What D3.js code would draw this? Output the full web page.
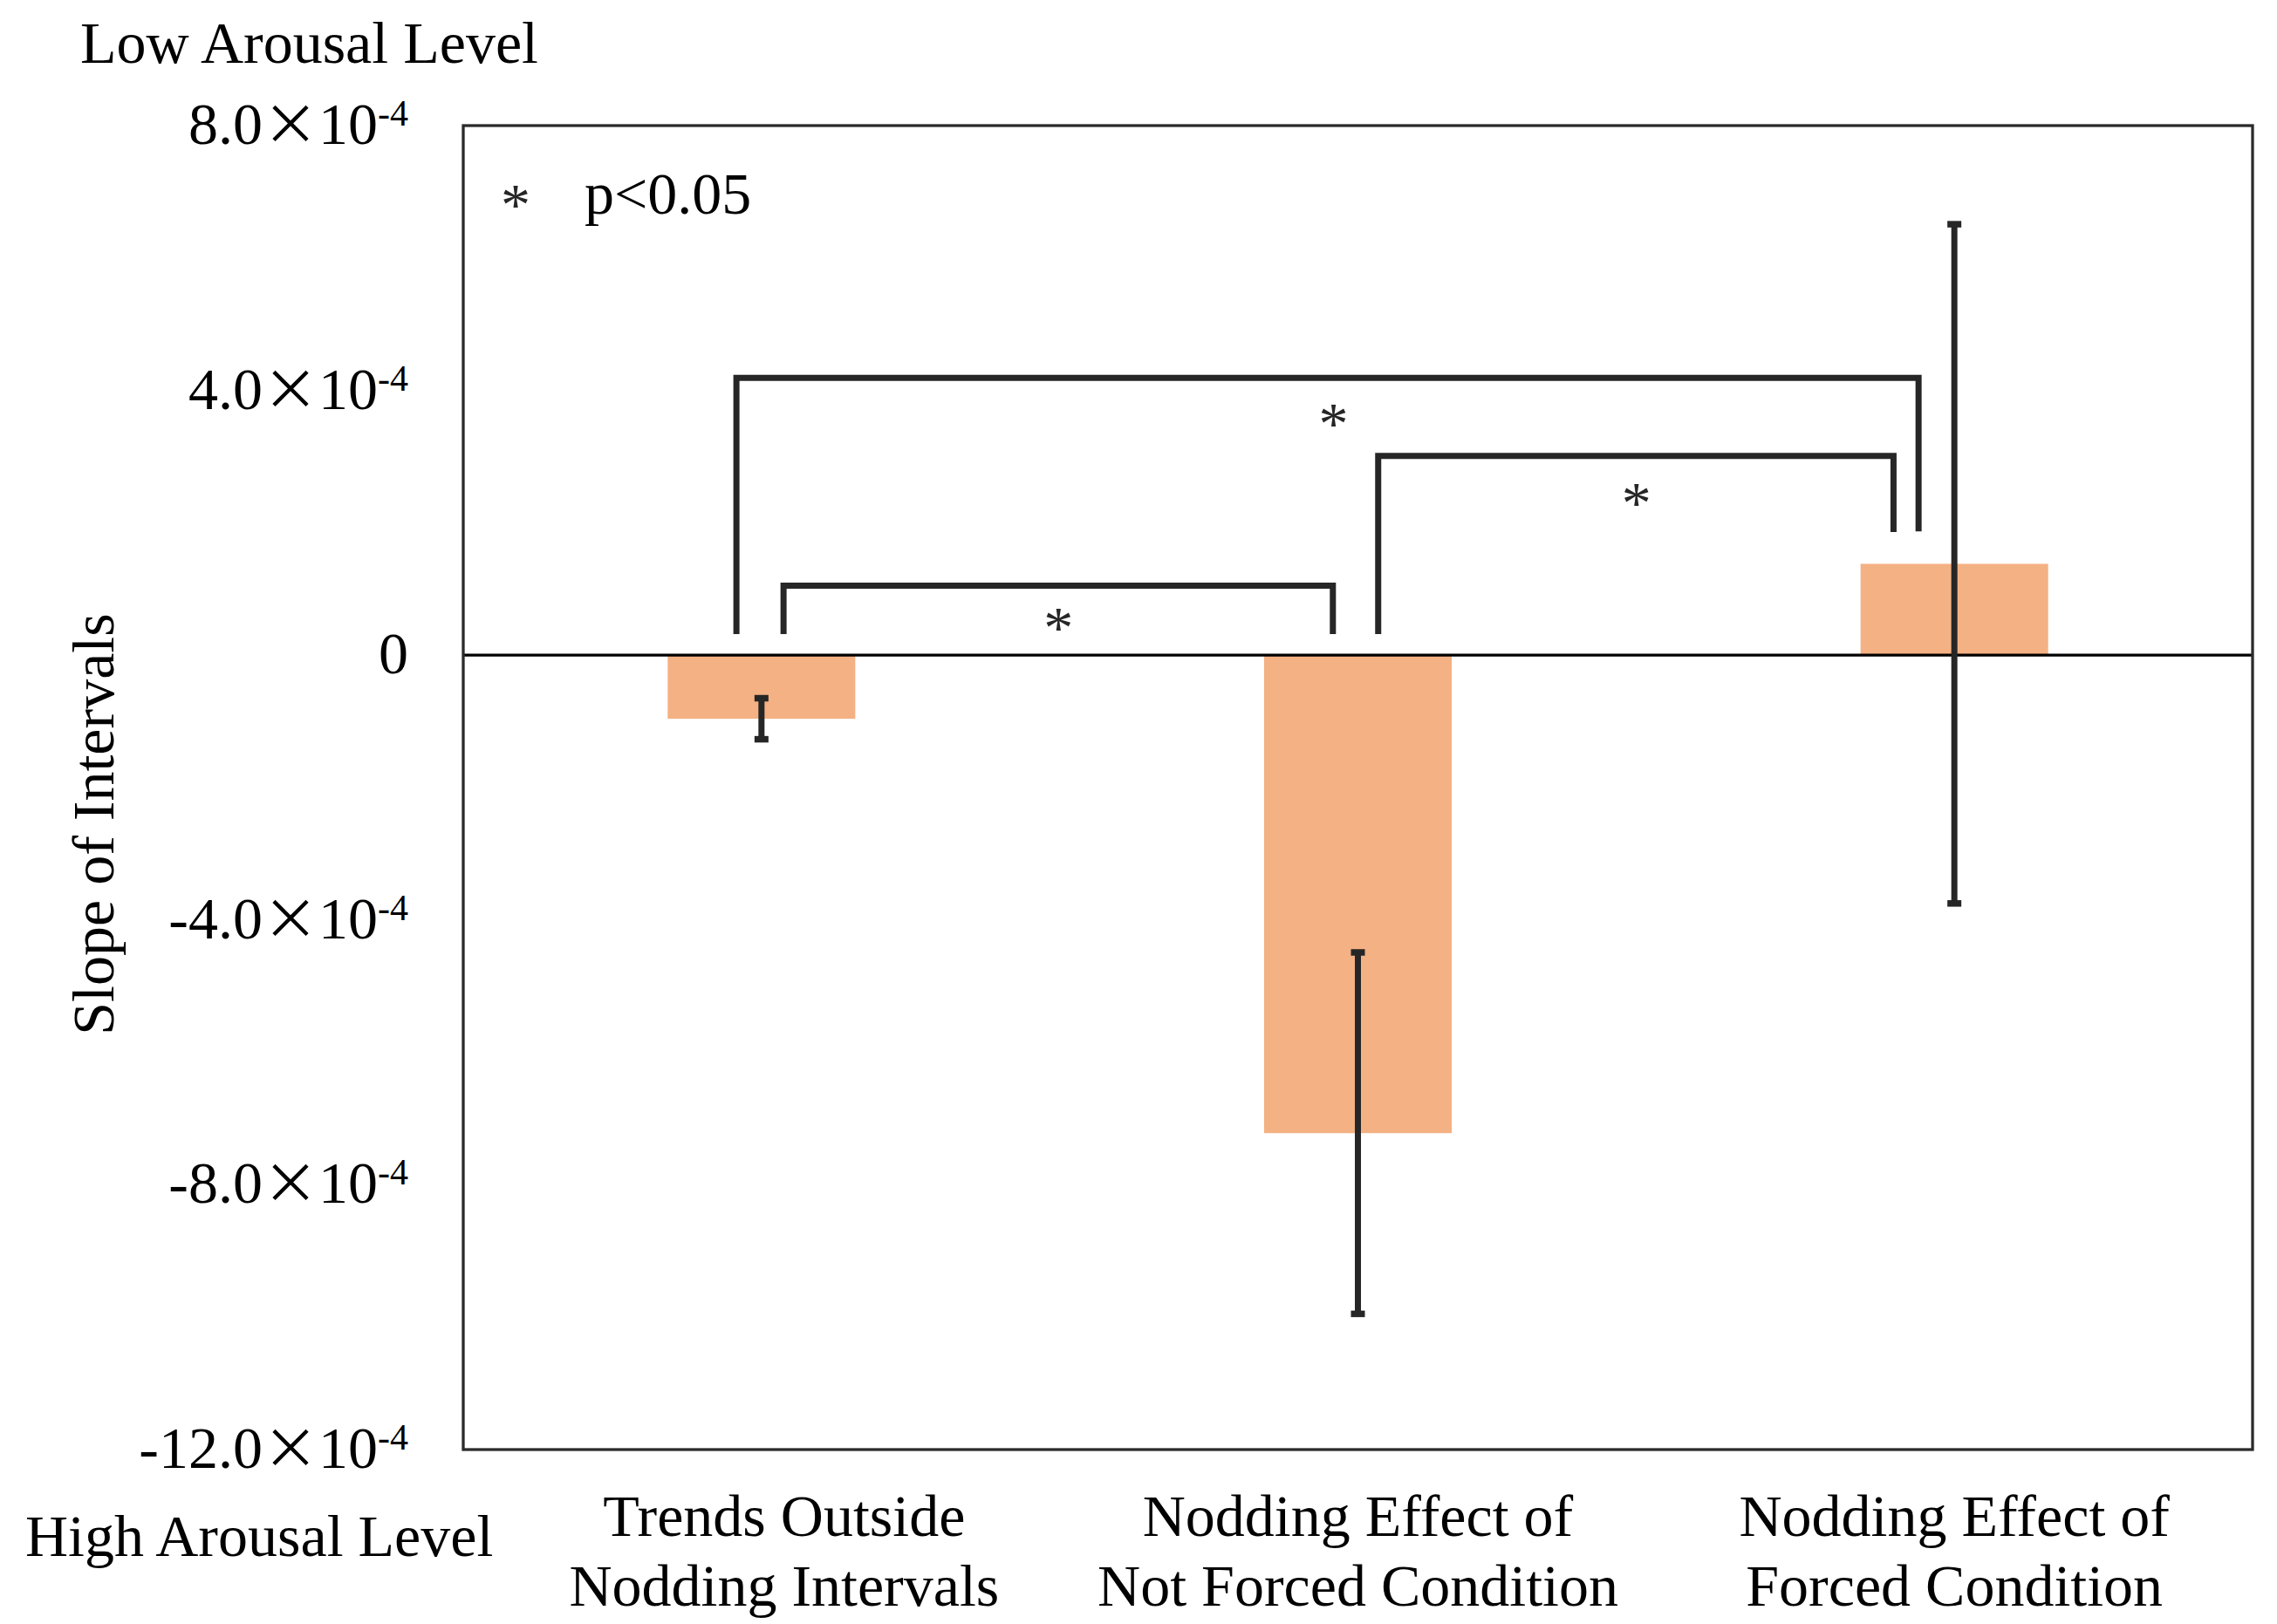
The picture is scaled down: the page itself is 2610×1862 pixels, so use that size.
<!DOCTYPE html>
<html>
<head>
<meta charset="utf-8">
<script src="https://cdn.jsdelivr.net/npm/d3@7/dist/d3.min.js"></script>
<style>
  body { margin: 0; background: #fff; }
  text { font-family: "Liberation Serif", "Times New Roman", serif; fill: #000; }
</style>
</head>
<body>
<script>
// categories (two lines each)
var categories = ["Trends Outside Nodding Intervals", "Nodding Effect of Not Forced Condition", "Nodding Effect of Forced Condition"];
var categoryLines = [["Trends Outside", "Nodding Intervals"], ["Nodding Effect of", "Not Forced Condition"], ["Nodding Effect of", "Forced Condition"]];

// mean slope and error
var slopeValues = [-0.96e-4, -7.22e-4, 1.38e-4];
var slopeErrors = [0.31e-4, 2.73e-4, 5.13e-4];

// y ticks
var yTicks = [8e-4, 4e-4, 0, -4e-4, -8e-4, -12e-4];
var yTickMantissa = ["8.0", "4.0", "0", "-4.0", "-8.0", "-12.0"];

// significance brackets (x in category units, y in data units)
var bracketLeft = [0.458, 0.537, 1.534];
var bracketRight = [2.440, 1.458, 2.398];
var bracketTop = [4.19e-4, 1.05e-4, 3.01e-4];
var bracketLeftEnd = [0.32e-4, 0.32e-4, 0.32e-4];
var bracketRightEnd = [1.87e-4, 0.32e-4, 1.86e-4];
var starX = [1.459, 0.998, 1.967];
var starY = [3.63e-4, 0.54e-4, 2.43e-4];

var W = 2610, H = 1862;
var margin = {top: 144, right: 28, bottom: 200, left: 531};
var width = W - margin.left - margin.right,
    height = H - margin.top - margin.bottom;

var svg = d3.select("body").append("svg")
  .attr("width", W).attr("height", H);

var g = svg.append("g")
  .attr("transform", "translate(" + margin.left + "," + margin.top + ")");

var y = d3.scaleLinear().domain([-12e-4, 8e-4]).range([height, 0]);
var x = d3.scaleBand().domain(categories).range([0, width])
  .paddingInner(0.6855).paddingOuter(0.34275);
var xPos = d3.scaleLinear().domain([0, 3]).range([0, width]); // fuer Klammern

// bars
g.selectAll(".bar")
  .data(slopeValues)
  .enter().append("rect")
  .attr("class", "bar")
  .attr("x", function (d, i) { return x(categories[i]); })
  .attr("width", x.bandwidth())
  .attr("y", function (d) { return y(Math.max(0, d)); })
  .attr("height", function (d) { return Math.abs(y(d) - y(0)); })
  .attr("fill", "#F4B183");

// zero line
g.append("line")
  .attr("x1", 0).attr("x2", width)
  .attr("y1", y(0)).attr("y2", y(0))
  .attr("stroke", "#000").attr("stroke-width", 3.3);

// error bars
var eb = g.selectAll(".err")
  .data(slopeValues)
  .enter().append("g")
  .attr("class", "err")
  .attr("transform", function (d, i) { return "translate(" + (x(categories[i]) + x.bandwidth() / 2) + ",0)"; });

eb.append("line")
  .attr("y1", function (d, i) { return y(d + slopeErrors[i]); })
  .attr("y2", function (d, i) { return y(d - slopeErrors[i]); })
  .attr("stroke", "#262626").attr("stroke-width", 7);

eb.selectAll(".cap")
  .data(function (d, i) { return [d + slopeErrors[i], d - slopeErrors[i]]; })
  .enter().append("line")
  .attr("x1", -8).attr("x2", 8)
  .attr("y1", function (d) { return y(d); })
  .attr("y2", function (d) { return y(d); })
  .attr("stroke", "#262626").attr("stroke-width", 7.5);

// brackets
g.selectAll(".bracket")
  .data(bracketTop)
  .enter().append("path")
  .attr("class", "bracket")
  .attr("d", function (d, i) {
    return "M" + xPos(bracketLeft[i]) + "," + y(bracketLeftEnd[i]) +
      "V" + y(d) + "H" + xPos(bracketRight[i]) + "V" + y(bracketRightEnd[i]);
  })
  .attr("fill", "none")
  .attr("stroke", "#262626")
  .attr("stroke-width", 7)
  .attr("stroke-linejoin", "miter");

g.selectAll(".star")
  .data(starY)
  .enter().append("text")
  .attr("class", "star")
  .attr("x", function (d, i) { return xPos(starX[i]); })
  .attr("y", function (d) { return y(d) + 32; })
  .attr("text-anchor", "middle")
  .style("font-size", "68px")
  .style("fill", "#262626")
  .text("*");

// plot border
g.append("rect")
  .attr("x", 0).attr("y", 0)
  .attr("width", width).attr("height", height)
  .attr("fill", "none").attr("stroke", "#2b2b2b").attr("stroke-width", 3.3);

// y axis
var yAxis = g.append("g")
  .call(d3.axisLeft(y).tickValues(yTicks).tickSize(0).tickPadding(63));
yAxis.select(".domain").remove();
yAxis.selectAll("text")
  .style("font-size", "68px")
  .style("font-family", "Liberation Serif, serif")
  .attr("fill", "#000")
  .attr("dy", "0.3em")
  .each(function (d, i) {
    var t = d3.select(this).text(null);
    if (d === 0) { t.append("tspan").text("0"); return; }
    t.append("tspan").text(yTickMantissa[i]);
    t.append("tspan").style("font-family", "Noto Sans CJK JP").style("font-size", "64px").text("×");
    t.append("tspan").text("10");
    t.append("tspan").attr("dy", "-0.5em").style("font-size", "42px").text("-4");
  });

// x axis with two line labels
var xAxis = g.append("g")
  .attr("transform", "translate(0," + height + ")")
  .call(d3.axisBottom(x).tickSize(0));
xAxis.select(".domain").remove();
xAxis.selectAll("text")
  .style("font-size", "68px")
  .style("font-family", "Liberation Serif, serif")
  .attr("fill", "#000")
  .attr("y", 99).attr("dy", 0)
  .each(function (d, i) {
    var t = d3.select(this).text(null);
    var nudge = i === 0 ? 26 : 0;
    categoryLines[i].forEach(function (line, k) {
      t.append("tspan").attr("x", nudge).attr("dy", k === 0 ? 0 : 80).text(line);
    });
  });

// axis title
svg.append("text")
  .attr("transform", "translate(130,945) rotate(-90)")
  .attr("text-anchor", "middle")
  .style("font-size", "68px")
  .text("Slope of Intervals");

// arousal labels
svg.append("text").attr("x", 92).attr("y", 72)
  .style("font-size", "68px").text("Low Arousal Level");
svg.append("text").attr("x", 29).attr("y", 1784)
  .style("font-size", "68px").text("High Arousal Level");

// legend
svg.append("text").attr("x", 591).attr("y", 257)
  .attr("text-anchor", "middle")
  .style("font-size", "68px").style("fill", "#262626").text("*");
svg.append("text").attr("x", 670).attr("y", 245)
  .style("font-size", "68px").text("p<0.05");
</script>
</body>
</html>
